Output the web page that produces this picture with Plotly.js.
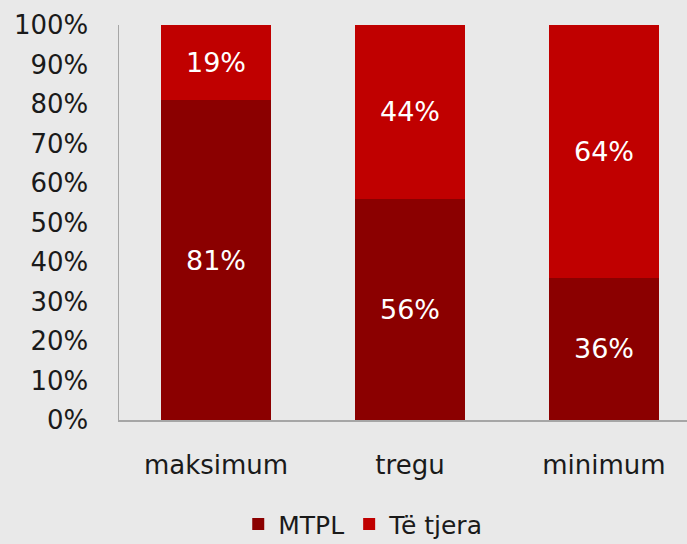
<!DOCTYPE html>
<html>
<head>
<meta charset="utf-8">
<script src="https://cdn.plot.ly/plotly-3.0.1.min.js"></script>
<style>html,body{margin:0;padding:0;background:#e9e9e9;}</style>
</head>
<body>
<div id="chart" style="width:687px;height:544px;"></div>
<script>
const categories = ["maksimum", "tregu", "minimum"];
const mtpl = [81, 56, 36];
const teTjera = [19, 44, 64];
const yTicks = [0, 10, 20, 30, 40, 50, 60, 70, 80, 90, 100];

const fam = "DejaVu Sans, Verdana, sans-serif";
const fs = 26;
const labelFs = 27;

const traces = [
  {type: "bar", name: "MTPL", x: categories, y: mtpl, marker: {color: "#8b0000"},
   text: mtpl.map(v => v + "%"), textposition: "inside", insidetextanchor: "middle",
   textfont: {family: fam, size: labelFs, color: "#ffffff"}, hoverinfo: "none"},
  {type: "bar", name: "Të tjera", x: categories, y: teTjera, marker: {color: "#c00000"},
   text: teTjera.map(v => v + "%"), textposition: "inside", insidetextanchor: "middle",
   textfont: {family: fam, size: labelFs, color: "#ffffff"}, hoverinfo: "none"}
];

const layout = {
  width: 687, height: 544,
  barmode: "stack", bargap: 0.433,
  paper_bgcolor: "#e9e9e9", plot_bgcolor: "#e9e9e9",
  margin: {l: 119, r: 0, t: 25, b: 124, autoexpand: false},
  font: {family: fam, size: fs, color: "#1a1a1a"},
  showlegend: true,
  legend: {orientation: "h", x: 0.43, xanchor: "center", y: -0.264, yanchor: "middle",
           font: {family: fam, size: 25, color: "#1a1a1a"}, traceorder: "normal",
           itemwidth: 30, bgcolor: "rgba(0,0,0,0)"},
  xaxis: {type: "category", range: [-0.5, 2.428], showgrid: false, zeroline: false,
          showline: true, linecolor: "#a6a6a6", linewidth: 1.5, ticks: "",
          ticklabelstandoff: 21, tickfont: {family: fam, size: fs, color: "#1a1a1a"}, fixedrange: true},
  yaxis: {range: [0, 100], tickvals: yTicks, ticktext: yTicks.map(v => v + "%"), showgrid: false,
          zeroline: false, showline: true, linecolor: "#a6a6a6", linewidth: 1.5, ticks: "",
          ticklabelstandoff: 24, tickfont: {family: fam, size: fs, color: "#1a1a1a"}, fixedrange: true}
};

Plotly.newPlot("chart", traces, layout, {displayModeBar: false, staticPlot: true});
</script>
</body>
</html>
